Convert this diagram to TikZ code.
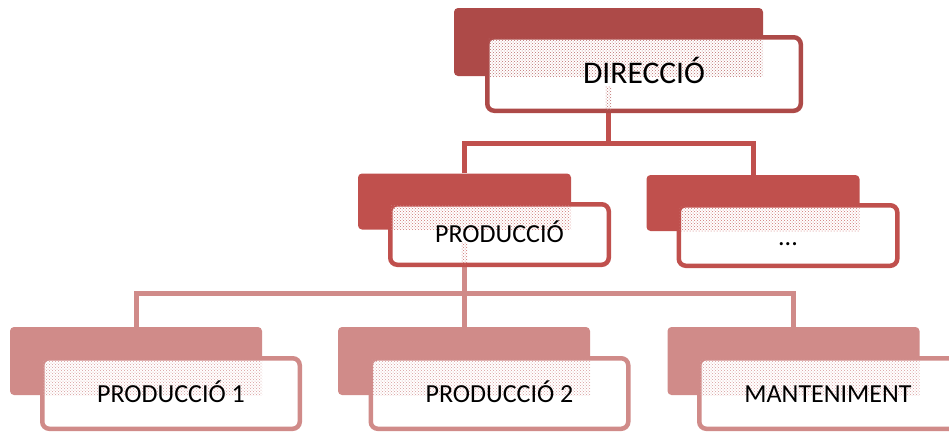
\documentclass[tikz,border=0pt]{standalone}
\usepackage{fontspec}
\setmainfont{Carlito}
\usetikzlibrary{calc,patterns,backgrounds}
\definecolor{orgdark}{RGB}{173,74,72}
\definecolor{orgmid}{RGB}{192,80,77}
\definecolor{orglight}{RGB}{208,139,137}
\begin{document}
\begin{tikzpicture}[x=1pt,y=-1pt,
  back/.style={rectangle, rounded corners=4pt, inner sep=0pt, draw=none},
  front/.style={rectangle, rounded corners=7pt, line width=4.5pt, fill=white, inner sep=0pt},
  topback/.style={back, fill=orgdark, minimum width=309pt, minimum height=68pt},
  topfront/.style={front, draw=orgdark, minimum width=313.5pt, minimum height=73.5pt},
  midback/.style={back, fill=orgmid, minimum width=213pt, minimum height=56pt},
  midfront/.style={front, draw=orgmid, minimum width=218.5pt, minimum height=60.5pt},
  lowback/.style={back, fill=orglight, minimum width=252pt, minimum height=68pt},
  lowfront/.style={front, draw=orglight, minimum width=257.5pt, minimum height=70.5pt},
  conn/.style={line width=5pt, line join=miter},
  sheen/.style={pattern=crosshatch dots, pattern color=#1},
  bigtext/.style={anchor=base, font=\fontsize{31.5}{37}\selectfont},
  label/.style={anchor=base, font=\fontsize{26}{31}\selectfont}]
\useasboundingbox (0,0) rectangle (949,432);
\clip (0,0) rectangle (949,432);

% rear tabs
\node[topback] (dirb)  at (608.5,42)  {};
\node[midback] (prodb) at (464.5,201.5) {};
\node[midback] (etcb)  at (753,203)   {};
\node[lowback] (p1b)   at (136,361)   {};
\node[lowback] (p2b)   at (464,361)   {};
\node[lowback] (mantb) at (793.5,361) {};

% framed front boxes
\node[topfront] (dir)  at (644,74)      {};
\node[midfront] (prod) at (499.5,234.5) {};
\node[midfront] (etc)  at (788,235.5)   {};
\node[lowfront] (p1)   at (171,393.5)   {};
\node[lowfront] (p2)   at (499.5,393.5) {};
\node[lowfront] (mant) at (828,393.5)   {};

% connectors, kept behind the boxes
\coordinate (bus1) at (608.5,143);
\coordinate (bus2) at (464.5,293);
\begin{pgfonlayer}{background}
  \draw[conn, orgmid] (dirb.south) -- (bus1);
  \draw[conn, orgmid] (prodb.north) |- (bus1) -| (etcb.north);
  \draw[conn, orglight] (prodb.south) -- (bus2);
  \draw[conn, orglight] (p1b.north) |- (bus2) -| (mantb.north);
  \draw[conn, orglight] (p2b.north) -- (p2b.north |- bus2);
\end{pgfonlayer}

% translucent overlap of the rear tab seen through each front box
\fill[sheen=orgdark!80] ($(dir.north west)+(3,3)$) rectangle (dirb.south east);
\fill[sheen=orgdark!80] ($(dirb.south)+(-3,10)$) rectangle ($(dirb.south |- dir.south)+(3,-3)$);
\fill[sheen=orgmid!80] ($(prod.north west)+(3,3)$) rectangle (prodb.south east);
\fill[sheen=orgmid!80] ($(prodb.south)+(-3,13)$) rectangle ($(prodb.south |- prod.south)+(3,-3)$);
\fill[sheen=orgmid!80] ($(etc.north west)+(3,3)$) rectangle (etcb.south east);
\fill[sheen=orglight!85] ($(p1.north west)+(3,3)$) rectangle (p1b.south east);
\fill[sheen=orglight!85] ($(p2.north west)+(3,3)$) rectangle (p2b.south east);
\fill[sheen=orglight!85] ($(mant.north west)+(3,3)$) rectangle (mantb.south east);

% labels
\node[bigtext] at ($(dir.center)+(0,9.5)$) {DIRECCIÓ};
\node[label] at ($(prod.center)+(0,7.5)$) {PRODUCCIÓ};
\node[label] at ($(etc.center)+(0,10)$) {...};
\node[label] at ($(p1.center)+(0,8.5)$) {PRODUCCIÓ 1};
\node[label] at ($(p2.center)+(0,8.5)$) {PRODUCCIÓ 2};
\node[label] at ($(mant.center)+(0,8.5)$) {MANTENIMENT};
\end{tikzpicture}
\end{document}
